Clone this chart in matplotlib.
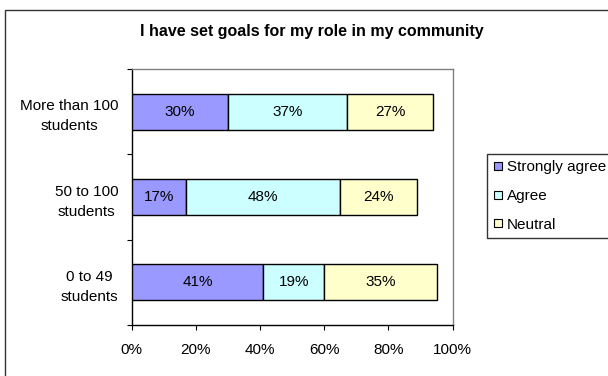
import matplotlib
matplotlib.use("Agg")
import matplotlib.pyplot as plt
from matplotlib.patches import Rectangle
from matplotlib.lines import Line2D

plt.rcParams['font.family'] = ['Liberation Sans', 'DejaVu Sans']

title = "I have set goals for my role in my community"
categories = ["0 to 49\nstudents", "50 to 100\nstudents", "More than 100\nstudents"]
series_names = ["Strongly agree", "Agree", "Neutral"]
strongly_agree = [41, 17, 30]
agree = [19, 48, 37]
neutral = [35, 24, 27]
x_ticks = [0, 20, 40, 60, 80, 100]

colors = ["#9999FF", "#CCFFFF", "#FFFFCC"]
W, H = 608, 376
fig = plt.figure(figsize=(W / 100, H / 100), dpi=100)
fs = 11

# plot area in pixel terms
left, right, top, bottom = 131.7, 452.7, 69.3, 324.7
ax = fig.add_axes([left / W, 1 - bottom / H, (right - left) / W, (bottom - top) / H])

ypos = list(range(len(categories)))
series = [strongly_agree, agree, neutral]
starts = [0] * len(categories)
for name, vals, col in zip(series_names, series, colors):
    ax.barh(ypos, vals, left=starts, height=0.415, color=col,
            edgecolor="black", linewidth=1.0, label=name, zorder=3)
    for y, v, s in zip(ypos, vals, starts):
        ax.text(s + v / 2, y, f"{v}%", ha="center", va="center",
                fontsize=fs, color="black", zorder=4)
    starts = [s + v for s, v in zip(starts, vals)]

ax.set_xlim(0, 100)
ax.set_ylim(-0.5, len(categories) - 0.5)

ax.set_xticks(x_ticks)
ax.set_xticklabels([f"{t}%" for t in x_ticks], fontsize=fs)
ax.tick_params(axis="x", direction="out", length=3.6, width=0.8, pad=9.5)

# y ticks on category boundaries, labels at category centres
ax.set_yticks([i - 0.5 for i in range(len(categories) + 1)])
ax.set_yticklabels([])
ax.set_yticks(ypos, minor=True)
ax.set_yticklabels(categories, minor=True, fontsize=fs, multialignment="center",
                   linespacing=1.55)
ax.tick_params(axis="y", which="major", direction="out", length=3.6, width=0.8)
ax.tick_params(axis="y", which="minor", length=0, pad=9.5)

for side in ("top", "right"):
    ax.spines[side].set_color("#808080")
    ax.spines[side].set_linewidth(1.0)
for side in ("left", "bottom"):
    ax.spines[side].set_color("black")
    ax.spines[side].set_linewidth(1.0)

fig.text(311.5 / W, 1 - 31.7 / H, title, ha="center", va="center",
         fontsize=11.5, fontweight="bold")

handles = [Line2D([], [], marker="s", linestyle="none", markersize=5.5,
                  markerfacecolor=c, markeredgecolor="black", markeredgewidth=0.8)
           for c in colors]
leg = fig.legend(handles, series_names, loc="upper left",
                 bbox_to_anchor=(487.3 / W, 1 - 154 / H), bbox_transform=fig.transFigure,
                 frameon=True, fancybox=False, shadow=False, fontsize=11,
                 handlelength=0.6, handletextpad=0.3, labelspacing=0.97,
                 borderpad=0.4, borderaxespad=0)
leg.get_frame().set_edgecolor("black")
leg.get_frame().set_linewidth(1.0)

# outer chart frame
fig.patches.append(Rectangle((4.7 / W, -0.2), 2, 1.2 - 10 / H, transform=fig.transFigure,
                             fill=False, edgecolor="#333333", linewidth=1.0))

fig.savefig("out.png", dpi=100)
